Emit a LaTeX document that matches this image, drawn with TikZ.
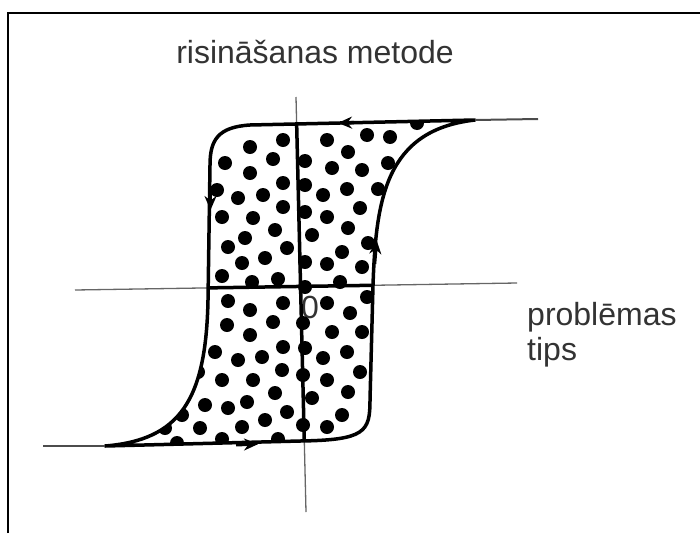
\documentclass[tikz,border=0pt]{standalone}
\usepackage{fontspec}
\setmainfont{Liberation Sans}
\usetikzlibrary{arrows.meta,positioning}

\begin{document}
\begin{tikzpicture}[
    x=1pt, y=-1pt,
    font=\fontsize{32}{35}\selectfont,
    lbl/.style={inner sep=0pt, text=black!80},
    axis/.style={line width=1.3pt, black!60},
    loopline/.style={line width=3.5pt, line join=round},
    tail/.style={line width=2pt, black!70},
    blob/.style={black},
    arr/.style={-{Stealth[length=14pt, width=12pt]}, line width=3.5pt}
]
\useasboundingbox (0,0) rectangle (700,533);
% frame
\draw[line width=2.5pt] (8,533) -- (8,13) -- (700,13);

% axes
\coordinate (xl) at (75,290);
\coordinate (xr) at (517,283);
\coordinate (yt) at (296,97);
\coordinate (yb) at (306,512);
\draw[axis] (xl) -- (xr);
\draw[axis] (yt) -- (yb);

% hysteresis loop
\def\hyst{(475,120) -- (250,125) .. controls (218,127) and (210,140) .. (210,165) -- (208,300) .. controls (206,400) and (180,440) .. (105,446) -- (300,441) .. controls (365,440) and (370,432) .. (370,400) -- (373,285) .. controls (376,200) and (385,130) .. (475,120) -- cycle}

\node[lbl, anchor=base west] (nulle) at (301,318) {0};

\begin{scope}
\clip \hyst;
\foreach \dx/\dy in {417/123, 283/140, 250/147, 327/140, 367/135, 390/137, 348/152, 225/163, 273/159, 305/161, 250/173, 332/168, 362/170, 388/163, 283/183, 305/185, 217/190, 238/198, 263/195, 323/195, 347/189, 378/189, 283/207, 305/212, 222/217, 253/218, 327/217, 360/208, 275/230, 245/238, 312/235, 348/228, 228/247, 287/248, 342/252, 368/243, 242/263, 265/258, 305/262, 327/264, 362/267, 222/276, 252/282, 278/279, 305/287, 340/282,
228/301, 250/310, 283/303, 327/303, 367/297, 227/325, 273/322, 250/335, 303/323, 332/332, 350/313, 362/332, 215/352, 238/360, 262/357, 283/347, 305/348, 323/358, 347/352, 198/372, 222/380, 253/380, 282/370, 303/375, 327/380, 360/372, 275/393, 312/398, 348/392, 182/415, 205/405, 228/408, 247/402, 287/412, 165/428, 200/428, 242/427, 265/420, 303/425, 327/427, 342/415, 177/443, 222/439, 278/439}
    \fill[blob] (\dx,\dy) circle[radius=7pt];
\draw[loopline] (xl) -- (xr);
\draw[loopline] (yt) -- (yb);
\end{scope}

\draw[loopline] \hyst;
\draw[tail] (43,446) -- (105,446);
\draw[tail] (475,120) -- (538,119);

% direction marks
\draw[arr] (354,122.6) -- (338,122.9);
\draw[arr] (210.5,188) -- (210.5,210);
\draw[arr] (236,444.6) -- (258,444.2);
\draw[arr] (374.5,264) -- (376.5,240);

\node[lbl, anchor=base] (metode) at (315,63) {risināšanas metode};
\node[lbl, anchor=north west, align=left] (tips) at (527,302) {problēmas\\tips};
\end{tikzpicture}
\end{document}
